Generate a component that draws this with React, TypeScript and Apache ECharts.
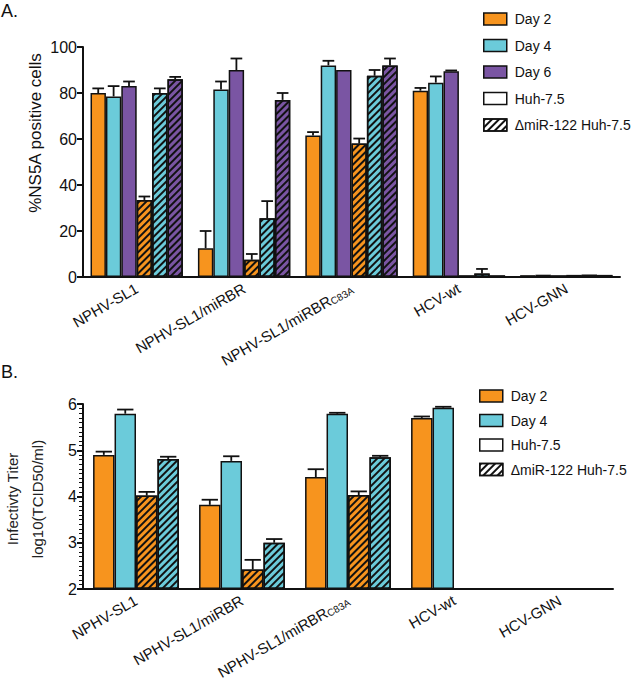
import React, { useEffect, useRef } from 'react';
import * as echarts from 'echarts';

const categories = ['NPHV-SL1', 'NPHV-SL1/miRBR', 'NPHV-SL1/miRBRC83A', 'HCV-wt', 'HCV-GNN'];

// Panel A: %NS5A positive cells
const aDay2 = [80, 12.5, 61.5, 81, 0.8];
const aDay4 = [78.5, 81.5, 92, 84.5, 1];
const aDay6 = [83, 90, 90, 89.5, 0.8];
const aDay2Ko = [33.5, 7.5, 58, 0.7, 0.9];
const aDay4Ko = [80, 25.5, 87.5, 1.5, 1];
const aDay6Ko = [86, 77, 92, 0.7, 0.9];
const aDay2Err = [2, 7.5, 1.5, 1.2, 0];
const aDay4Err = [4.5, 3.5, 2, 2.7, 0];
const aDay6Err = [2, 5, 0, 0.3, 0];
const aDay2KoErr = [1.5, 2.5, 2.2, 0, 0];
const aDay4KoErr = [2, 7.5, 2.5, 2, 0];
const aDay6KoErr = [1, 3, 3, 0, 0];

// Panel B: log10(TCID50/ml)
const bDay2 = [4.9, 3.82, 4.42, 5.7, null];
const bDay4 = [5.79, 4.77, 5.79, 5.92, null];
const bDay2Ko = [4.02, 2.42, 4.03, null, null];
const bDay4Ko = [4.81, 3.0, 4.85, null, null];
const bDay2Err = [0.07, 0.11, 0.17, 0.03, 0];
const bDay4Err = [0.09, 0.1, 0.02, 0.02, 0];
const bDay2KoErr = [0.08, 0.21, 0.08, 0, 0];
const bDay4KoErr = [0.05, 0.08, 0.03, 0, 0];

const aTicks = { min: 0, max: 100, interval: 20 };
const bTicks = { min: 2, max: 6, interval: 1 };
const bMinorTicks = { min: 2, max: 6, interval: 0.1 };

const ORANGE = '#F7941E';
const CYAN = '#6BCBDA';
const PURPLE = '#7A55A3';
const FONT = 'Liberation Sans, Arial, sans-serif';

const hatch = {
  symbol: 'rect',
  symbolSize: 1,
  color: '#111',
  dashArrayX: [1, 0],
  dashArrayY: [2, 3],
  rotation: -Math.PI / 4,
};

const GAP_A = 0.14;
const GAP_B = 0.19;

function barSeries(name: string, data: (number | null)[], color: string, axis: number, gap: number, ko: boolean) {
  return {
    type: 'bar',
    name,
    xAxisIndex: axis,
    yAxisIndex: axis,
    data: data.map((v) => (v == null ? '-' : v)),
    barGap: '0%',
    barCategoryGap: Math.round(gap * 100) + '%',
    clip: true,
    itemStyle: {
      color,
      borderColor: '#111',
      borderWidth: 1.5,
      ...(ko ? { decal: hatch } : {}),
    },
    z: 2,
  };
}

function errSeries(values: (number | null)[], errs: number[], slot: number, n: number, gap: number, axis: number) {
  const data: number[][] = [];
  values.forEach((v, i) => {
    if (v != null) data.push([i, v, v + errs[i]]);
  });
  return {
    type: 'custom',
    xAxisIndex: axis,
    yAxisIndex: axis,
    z: 1,
    clip: false,
    data,
    renderItem: (params: any, api: any) => {
      const cat = api.value(0);
      const v = api.value(1);
      const up = api.value(2);
      if (!(up > v)) return null;
      const p0 = api.coord([cat, v]);
      const p1 = api.coord([cat, up]);
      const band = api.size([1, 0])[0];
      const barW = (band * (1 - gap)) / n;
      const x = p0[0] - (band * (1 - gap)) / 2 + (slot + 0.5) * barW;
      const cap = barW * 0.38;
      return {
        type: 'group',
        children: [
          { type: 'line', shape: { x1: x, y1: p0[1], x2: x, y2: p1[1] }, style: { stroke: '#111', lineWidth: 1.8 } },
          { type: 'line', shape: { x1: x - cap, y1: p1[1], x2: x + cap, y2: p1[1] }, style: { stroke: '#111', lineWidth: 1.8 } },
        ],
      };
    },
  };
}

function xAxisCfg(gridIndex: number) {
  return {
    type: 'category',
    gridIndex,
    data: categories,
    axisLine: { lineStyle: { color: '#111', width: 2 } },
    axisTick: { alignWithLabel: true, length: 7, lineStyle: { color: '#111', width: 2 } },
    axisLabel: {
      interval: 0,
      rotate: 30,
      margin: 10,
      formatter: (v: string) =>
        v === 'NPHV-SL1/miRBRC83A' ? '{n|NPHV-SL1/miRBR}{s|C83A}' : '{n|' + v + '}',
      rich: {
        n: { fontSize: 15, fontFamily: FONT, color: '#111' },
        s: { fontSize: 10, fontFamily: FONT, color: '#111', padding: [6, 0, 0, 0] },
      },
    },
  };
}

function yAxisCfg(gridIndex: number, t: { min: number; max: number; interval: number }) {
  return {
    type: 'value',
    gridIndex,
    position: 'left',
    min: t.min,
    max: t.max,
    interval: t.interval,
    startValue: t.min,
    splitLine: { show: false },
    axisLine: { show: true, lineStyle: { color: '#111', width: 2 } },
    axisTick: { show: true, length: 6, lineStyle: { color: '#111', width: 2 } },
    axisLabel: { fontSize: 16, fontFamily: FONT, color: '#111', margin: 6 },
  };
}

export default function App() {
  const ref = useRef<HTMLDivElement>(null);
  useEffect(() => {
    if (!ref.current) return;
    const chart = echarts.init(ref.current, undefined, { renderer: 'svg' });
    const legendText = { fontSize: 14, lineHeight: 12, fontFamily: FONT, color: '#111', padding: [0, 0, 0, 3] };
    const option: any = {
      animation: false,
      backgroundColor: '#fff',
      grid: [
        { left: 83, top: 47, width: 537, height: 230 },
        { left: 83, top: 404, width: 530, height: 185 },
      ],
      xAxis: [
        xAxisCfg(0),
        xAxisCfg(1),
        { type: 'category', gridIndex: 0, data: ['x'], show: false },
      ],
      yAxis: [
        yAxisCfg(0, aTicks),
        yAxisCfg(1, bTicks),
        { type: 'value', gridIndex: 0, show: false },
        {
          type: 'value',
          gridIndex: 1,
          position: 'left',
          offset: 0,
          min: bMinorTicks.min,
          max: bMinorTicks.max,
          interval: bMinorTicks.interval,
          splitLine: { show: false },
          axisLine: { show: false },
          axisLabel: { show: false },
          axisTick: { show: true, length: 4, lineStyle: { color: '#111', width: 1 } },
        },
      ],
      legend: [
        {
          orient: 'vertical',
          left: 483,
          top: 12,
          padding: 0,
          itemWidth: 23,
          itemHeight: 12,
          itemGap: 12.5,
          icon: 'rect',
          data: ['Day 2', 'Day 4', 'Day 6', 'Huh-7.5', 'ΔmiR-122 Huh-7.5'],
          textStyle: legendText,
          itemStyle: { borderColor: '#111', borderWidth: 1.5 },
          selectedMode: false,
        },
        {
          orient: 'vertical',
          left: 479,
          top: 389,
          padding: 0,
          itemWidth: 23,
          itemHeight: 12,
          itemGap: 10.5,
          icon: 'rect',
          data: ['Day 2', 'Day 4', 'Huh-7.5', 'ΔmiR-122 Huh-7.5'],
          textStyle: legendText,
          itemStyle: { borderColor: '#111', borderWidth: 1.5 },
          selectedMode: false,
        },
      ],
      graphic: [
        { type: 'text', left: 1, top: 2, style: { text: 'A.', fontSize: 18, fontFamily: FONT, fill: '#111' } },
        { type: 'text', left: 1, top: 363, style: { text: 'B.', fontSize: 18, fontFamily: FONT, fill: '#111' } },
        {
          type: 'text',
          x: 35,
          y: 133,
          rotation: Math.PI / 2,
          style: {
            text: '%NS5A positive cells',
            fontSize: 17,
            fontFamily: FONT,
            fill: '#111',
            align: 'center',
            verticalAlign: 'middle',
          },
        },
        {
          type: 'text',
          x: 25,
          y: 499,
          rotation: Math.PI / 2,
          style: {
            text: 'Infectivty Titer\nlog10(TCID50/ml)',
            fontSize: 15,
            lineHeight: 25,
            fontFamily: FONT,
            fill: '#222',
            align: 'center',
            verticalAlign: 'middle',
          },
        },
      ],
      series: [
        barSeries('Day 2', aDay2, ORANGE, 0, GAP_A, false),
        barSeries('Day 4', aDay4, CYAN, 0, GAP_A, false),
        barSeries('Day 6', aDay6, PURPLE, 0, GAP_A, false),
        barSeries('Day 2 ΔmiR-122', aDay2Ko, ORANGE, 0, GAP_A, true),
        barSeries('Day 4 ΔmiR-122', aDay4Ko, CYAN, 0, GAP_A, true),
        barSeries('Day 6 ΔmiR-122', aDay6Ko, PURPLE, 0, GAP_A, true),
        errSeries(aDay2, aDay2Err, 0, 6, GAP_A, 0),
        errSeries(aDay4, aDay4Err, 1, 6, GAP_A, 0),
        errSeries(aDay6, aDay6Err, 2, 6, GAP_A, 0),
        errSeries(aDay2Ko, aDay2KoErr, 3, 6, GAP_A, 0),
        errSeries(aDay4Ko, aDay4KoErr, 4, 6, GAP_A, 0),
        errSeries(aDay6Ko, aDay6KoErr, 5, 6, GAP_A, 0),

        barSeries('Day 2', bDay2, ORANGE, 1, GAP_B, false),
        barSeries('Day 4', bDay4, CYAN, 1, GAP_B, false),
        barSeries('Day 2 ΔmiR-122 B', bDay2Ko, ORANGE, 1, GAP_B, true),
        barSeries('Day 4 ΔmiR-122 B', bDay4Ko, CYAN, 1, GAP_B, true),
        errSeries(bDay2, bDay2Err, 0, 4, GAP_B, 1),
        errSeries(bDay4, bDay4Err, 1, 4, GAP_B, 1),
        errSeries(bDay2Ko, bDay2KoErr, 2, 4, GAP_B, 1),
        errSeries(bDay4Ko, bDay4KoErr, 3, 4, GAP_B, 1),

        {
          type: 'bar',
          name: 'Huh-7.5',
          xAxisIndex: 2,
          yAxisIndex: 2,
          data: [],
          itemStyle: { color: '#fff', borderColor: '#111', borderWidth: 1.5 },
        },
        {
          type: 'bar',
          name: 'ΔmiR-122 Huh-7.5',
          xAxisIndex: 2,
          yAxisIndex: 2,
          data: [],
          itemStyle: { color: '#fff', borderColor: '#111', borderWidth: 1.5, decal: hatch },
        },
      ],
    };
    chart.setOption(option);
    return () => chart.dispose();
  }, []);
  return (
    <div
      ref={ref}
      style={{ position: 'fixed', left: 0, top: 0, width: 635, height: 686, background: '#fff' }}
    />
  );
}
